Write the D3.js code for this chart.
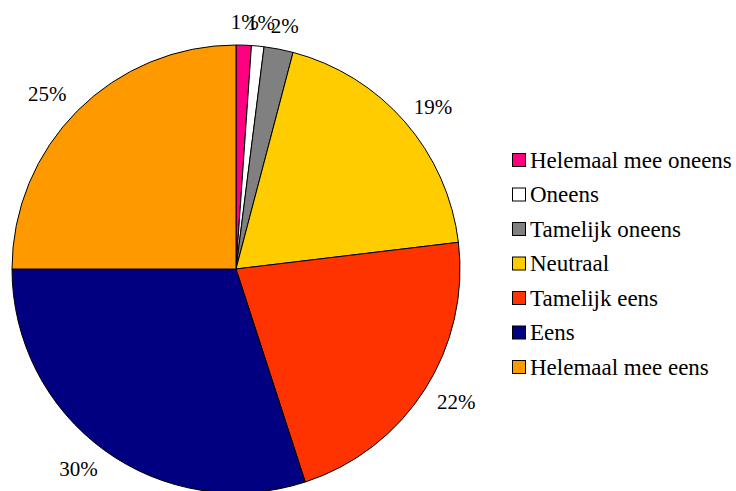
<!DOCTYPE html>
<html>
<head>
<meta charset="utf-8">
<script src="https://cdn.jsdelivr.net/npm/d3@7"></script>
<style>
html,body{margin:0;padding:0;background:#fff;}
svg{display:block;}
</style>
</head>
<body>
<svg id="chart" width="736" height="491"></svg>
<script>
const categories = ["Helemaal mee oneens","Oneens","Tamelijk oneens","Neutraal","Tamelijk eens","Eens","Helemaal mee eens"];
const values = [1.1, 0.9, 2.1, 19.0, 21.9, 30.0, 25.0];
const labels = ["1%","1%","2%","19%","22%","30%","25%"];
const colors = ["#FF0080","#FFFFFF","#808080","#FFCC00","#FF3300","#000080","#FF9900"];

const FONT = "Liberation Serif, DejaVu Serif, Times New Roman, Times, serif";
const svg = d3.select("#chart");
const cx = 236, cy = 269, r = 224;
const data = categories.map((c,i)=>({name:c, value:values[i], label:labels[i], color:colors[i]}));

const pie = d3.pie().value(d=>d.value).sort(null);
const arcs = pie(data);
const arc = d3.arc().innerRadius(0).outerRadius(r);

const g = svg.append("g").attr("transform",`translate(${cx},${cy})`);
g.selectAll("path").data(arcs).join("path")
  .attr("d",arc)
  .attr("fill",d=>d.data.color)
  .attr("stroke","#000")
  .attr("stroke-width",1);

const labelR = 242;
const fs = 21;
g.selectAll("text.lbl").data(arcs).join("text")
  .attr("class","lbl")
  .style("font-family",FONT)
  .style("font-size",fs+"px")
  .attr("fill","#000")
  .text(d=>d.data.label)
  .each(function(d){
    const a = (d.startAngle+d.endAngle)/2;
    const w = this.getComputedTextLength();
    const h = fs*0.5;
    const px = Math.sin(a)*labelR, py = -Math.cos(a)*labelR;
    const bx = px + Math.sin(a)*w/2 - (Math.sin(a) < 0 ? 4 : 0);
    const by = py - Math.cos(a)*h/2;
    d3.select(this).attr("x",bx).attr("y",by+fs*0.33).attr("text-anchor","middle");
  });

const legend = svg.append("g").attr("transform","translate(512,153)");
const rowH = 34.5;
const rows = legend.selectAll("g").data(data).join("g")
  .attr("transform",(d,i)=>`translate(0,${i*rowH})`);
rows.append("rect").attr("x",0.5).attr("y",0.5).attr("width",13).attr("height",13)
  .attr("fill",d=>d.color).attr("stroke","#000").attr("stroke-width",1);
rows.append("text").attr("x",18).attr("y",14.5)
  .style("font-family",FONT).style("font-size","23px").attr("fill","#000")
  .text(d=>d.name);
</script>
</body>
</html>
